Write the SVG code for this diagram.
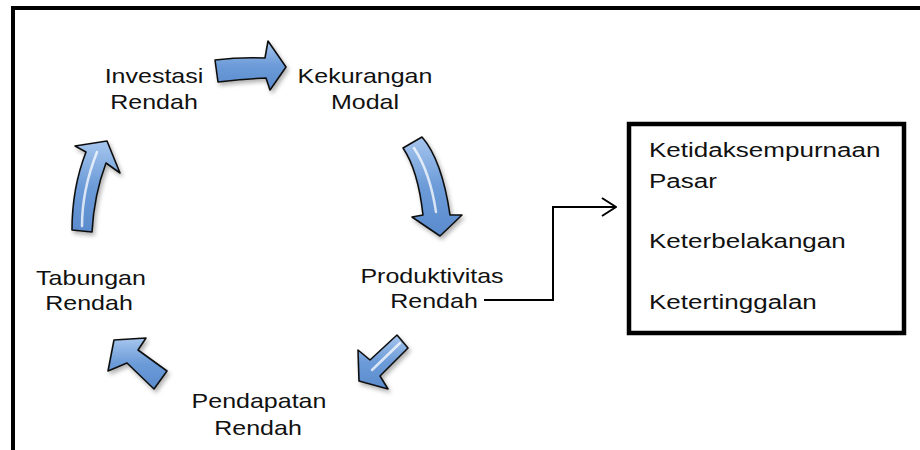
<svg xmlns="http://www.w3.org/2000/svg" width="920" height="450" viewBox="0 0 920 450">
<style>
.lbl{font-family:"Liberation Sans",Arial,sans-serif;font-size:20.5px;fill:#111;text-anchor:middle}
.box{font-family:"Liberation Sans",Arial,sans-serif;font-size:21px;fill:#111}
.arr{fill:url(#blue);stroke:#111;stroke-width:1.6;stroke-linejoin:round;filter:url(#sh)}
.hl{fill:none;stroke:#fff;stroke-opacity:0.75;stroke-width:2.5;stroke-linecap:round}
.conn{fill:none;stroke:#000;stroke-width:2}
</style>
<defs>
<linearGradient id="blue" x1="0" y1="0" x2="0" y2="1">
<stop offset="0" stop-color="#a6c6ee"/>
<stop offset="0.5" stop-color="#6c9bd8"/>
<stop offset="1" stop-color="#5a8bcd"/>
</linearGradient>
<filter id="sh" x="-30%" y="-30%" width="160%" height="160%">
<feDropShadow dx="2" dy="3" stdDeviation="2" flood-color="#000" flood-opacity="0.3"/>
</filter>
<marker id="chev" markerWidth="16" markerHeight="20" refX="15" refY="10" orient="auto" markerUnits="userSpaceOnUse">
<path d="M1,1 L15,10 L1,19" fill="none" stroke="#000" stroke-width="2"/>
</marker>
</defs>
<rect x="0" y="0" width="920" height="450" fill="#fff"/>
<rect id="frame" x="13" y="8" width="940" height="480" fill="none" stroke="#000" stroke-width="4"/>

<g id="investasi-rendah">
<text class="lbl" transform="translate(154,83) scale(1.22,1)">Investasi</text>
<text class="lbl" transform="translate(154,109) scale(1.22,1)">Rendah</text>
</g>
<g id="kekurangan-modal">
<text class="lbl" transform="translate(365,83) scale(1.22,1)">Kekurangan</text>
<text class="lbl" transform="translate(365,109) scale(1.22,1)">Modal</text>
</g>
<g id="produktivitas-rendah">
<text class="lbl" transform="translate(432,283) scale(1.22,1)">Produktivitas</text>
<text class="lbl" transform="translate(434,308) scale(1.22,1)">Rendah</text>
</g>
<g id="pendapatan-rendah">
<text class="lbl" transform="translate(259,408) scale(1.22,1)">Pendapatan</text>
<text class="lbl" transform="translate(258,435) scale(1.22,1)">Rendah</text>
</g>
<g id="tabungan-rendah">
<text class="lbl" transform="translate(91,285) scale(1.22,1)">Tabungan</text>
<text class="lbl" transform="translate(89,310) scale(1.22,1)">Rendah</text>
</g>
<g id="faktor-box">
<rect x="629" y="124" width="275" height="209" fill="#fff" stroke="#000" stroke-width="4.5"/>
<text class="box" transform="translate(649,157) scale(1.24,1)">Ketidaksempurnaan</text>
<text class="box" transform="translate(649,188) scale(1.24,1)">Pasar</text>
<text class="box" transform="translate(649,248) scale(1.24,1)">Keterbelakangan</text>
<text class="box" transform="translate(649,309) scale(1.24,1)">Ketertinggalan</text>
</g>

<g id="connectors">
<path class="arr" d="M215,60 Q240,57 265,58 L268,41 L286,67 L270,90 L266,78 Q242,79 218,82 Z"/>
<path class="arr" d="M403,148 L422,137 Q442,160 450,215 L462,215 L440,236 L412,217 L423,215 Q418,170 403,148 Z"/>
<path class="hl" d="M414,148 Q430,172 436,212" stroke-opacity="0.35"/>
<path class="arr" d="M359,381 L358,350 L370,360 L397,335 L408,348 L380,376 L388,389 Z"/>
<path class="hl" d="M372,370 L400,343" stroke-opacity="0.35"/>
<path class="arr" d="M114,340 L146,338 L138,350 L167,371 L154,389 L127,363 L108,371 Z"/>
<path class="arr" d="M72,230 Q72,188 86,152 L75,146 L107,141 L120,173 L106,163 Q94,195 92,232 Z"/>
<path class="hl" d="M82,226 Q82,190 97,152"/>
<path class="conn" d="M484,300 L553,300 L553,207 L616,207" marker-end="url(#chev)"/>
</g>
</svg>
